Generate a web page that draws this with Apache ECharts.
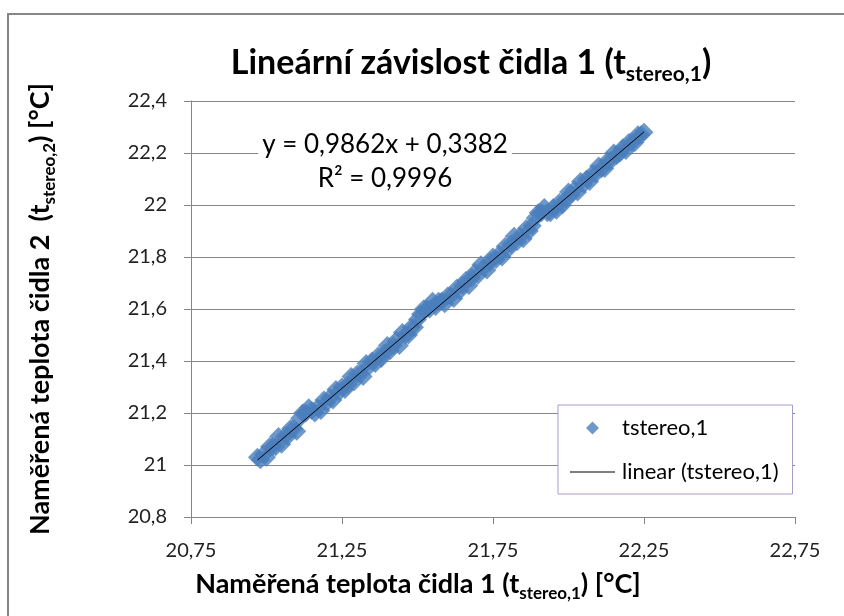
<!DOCTYPE html>
<html>
<head>
<meta charset="utf-8">
<title>Lineární závislost čidla 1</title>
<script src="https://cdn.jsdelivr.net/npm/echarts@6/dist/echarts.min.js"></script>
<style>
  html, body { margin: 0; padding: 0; background: #fff; }
  #chart { width: 844px; height: 616px; }
</style>
</head>
<body>
<div id="chart"></div>
<script>
// Measured temperatures: sensor 1 (x) against sensor 2 (y), °C
const xValues = [
  20.97, 20.98, 20.99, 21.00, 21.01, 21.02, 21.03, 21.04, 21.05, 21.06,
  21.07, 21.08, 21.09, 21.10, 21.11, 21.12, 21.13, 21.14, 21.15, 21.16,
  21.17, 21.18, 21.19, 21.20, 21.21, 21.22, 21.23, 21.24, 21.25, 21.26,
  21.27, 21.28, 21.29, 21.30, 21.31, 21.32, 21.33, 21.34, 21.35, 21.36,
  21.37, 21.38, 21.39, 21.40, 21.41, 21.42, 21.43, 21.44, 21.45, 21.46,
  21.47, 21.48, 21.49, 21.50, 21.51, 21.52, 21.53, 21.54, 21.55, 21.56,
  21.57, 21.58, 21.59, 21.60, 21.61, 21.62, 21.63, 21.64, 21.65, 21.66,
  21.67, 21.68, 21.69, 21.70, 21.71, 21.72, 21.73, 21.74, 21.75, 21.76,
  21.77, 21.78, 21.79, 21.80, 21.81, 21.82, 21.83, 21.84, 21.85, 21.86,
  21.87, 21.88, 21.89, 21.90, 21.91, 21.92, 21.93, 21.94, 21.95, 21.96,
  21.97, 21.98, 21.99, 22.00, 22.01, 22.02, 22.03, 22.04, 22.05, 22.06,
  22.07, 22.08, 22.09, 22.10, 22.11, 22.12, 22.13, 22.14, 22.15, 22.16,
  22.17, 22.18, 22.19, 22.20, 22.21, 22.22, 22.23, 22.24, 22.25
];
const yValues = [
  21.03, 21.02, 21.04, 21.03, 21.07, 21.07, 21.07, 21.11, 21.08, 21.11,
  21.11, 21.14, 21.14, 21.13, 21.18, 21.20, 21.20, 21.22, 21.21, 21.20,
  21.22, 21.21, 21.25, 21.24, 21.26, 21.25, 21.29, 21.28, 21.30, 21.29,
  21.31, 21.34, 21.32, 21.35, 21.35, 21.34, 21.39, 21.38, 21.40, 21.39,
  21.42, 21.41, 21.43, 21.46, 21.44, 21.46, 21.48, 21.46, 21.51, 21.50,
  21.50, 21.53, 21.53, 21.56, 21.58, 21.60, 21.60, 21.60, 21.63, 21.61,
  21.63, 21.63, 21.62, 21.65, 21.65, 21.64, 21.68, 21.67, 21.69, 21.71,
  21.69, 21.72, 21.74, 21.73, 21.77, 21.76, 21.75, 21.78, 21.80, 21.79,
  21.81, 21.80, 21.84, 21.83, 21.85, 21.88, 21.86, 21.88, 21.87, 21.91,
  21.90, 21.92, 21.95, 21.97, 21.97, 21.99, 21.97, 21.97, 21.99, 21.98,
  22.01, 22.00, 22.02, 22.05, 22.04, 22.06, 22.05, 22.09, 22.08, 22.10,
  22.09, 22.12, 22.12, 22.15, 22.14, 22.14, 22.17, 22.17, 22.20, 22.19,
  22.20, 22.22, 22.21, 22.24, 22.24, 22.24, 22.27, 22.27, 22.28
];

// Linear regression of the series (as reported on the chart)
const slope = 0.9862;
const intercept = 0.3382;
const rSquared = 0.9996;

// Axis ranges and tick steps
const xAxisMin = 20.75, xAxisMax = 22.75, xAxisStep = 0.5;
const yAxisMin = 20.8,  yAxisMax = 22.4,  yAxisStep = 0.2;

const seriesName = 'tstereo,1';
const trendName = 'linear (tstereo,1)';

const FONT = 'Lato, "Open Sans", sans-serif';
const comma = v => String(v).replace('.', ',');

const points = xValues.map((x, i) => [x, yValues[i]]);
const xMin = Math.min(...xValues), xMax = Math.max(...xValues);
const trend = [xMin, xMax].map(x => [x, slope * x + intercept]);

const eqText = 'y = ' + comma(slope) + 'x + ' + comma(intercept) + '\nR² = ' + comma(rSquared);

// rich-text styles for bold names with a subscript part
const nameRich = (size, subSize) => ({
  b: { fontFamily: FONT, fontSize: size, fontWeight: 'bold', color: '#000', lineHeight: Math.round(size * 1.3) },
  s: { fontFamily: FONT, fontSize: subSize, fontWeight: 'bold', color: '#000', verticalAlign: 'bottom', lineHeight: subSize }
});

const chart = echarts.init(document.getElementById('chart'), null, { renderer: 'canvas' });

chart.setOption({
  backgroundColor: '#fff',
  animation: false,
  title: {
    text: '{b|Lineární závislost čidla 1 (t}{s|stereo,1}{b|)}',
    left: 466, top: 36,
    textAlign: 'center',
    textStyle: { rich: nameRich(34, 21) }
  },
  grid: { left: 191, top: 101, right: 49, bottom: 99, containLabel: false },
  legend: {
    orient: 'vertical',
    left: 558, top: 405,
    width: 233,
    padding: [12, 14, 11, 12],
    itemGap: 22,
    itemWidth: 45,
    itemHeight: 13,
    symbolKeepAspect: true,
    borderColor: '#A99BC9',
    borderWidth: 1,
    backgroundColor: '#fff',
    textStyle: { fontFamily: FONT, fontSize: 22, color: '#000', padding: [0, 0, 0, 2] },
    data: [
      { name: seriesName, icon: 'path://M5,0 L10,5 L5,10 L0,5 Z', itemStyle: { color: '#4A7EBB' } },
      { name: trendName, icon: 'path://M0,0 H45 V1 H0 Z', itemStyle: { color: '#000' } }
    ]
  },
  xAxis: {
    type: 'value',
    min: xAxisMin, max: xAxisMax, interval: xAxisStep,
    name: '{b|Naměřená teplota čidla 1 (t}{s|stereo,1}{b|) [°C]}',
    nameLocation: 'middle',
    nameGap: 50,
    nameTextStyle: { padding: [0, 150, 0, 0], rich: nameRich(27, 17) },
    axisLine: { lineStyle: { color: '#868686', width: 1 } },
    axisTick: { show: true, inside: false, length: 7, lineStyle: { color: '#868686' } },
    axisLabel: { fontFamily: FONT, fontSize: 20, color: '#222', margin: 24, formatter: v => comma(v.toFixed(2)) },
    splitLine: { show: false }
  },
  yAxis: {
    type: 'value',
    min: yAxisMin, max: yAxisMax, interval: yAxisStep,
    name: '{b|Naměřená teplota čidla 2  (t}{s|stereo,2}{b|) [°C]}',
    nameLocation: 'middle',
    nameGap: 133,
    nameTextStyle: { rich: nameRich(27, 17) },
    axisLine: { show: true, lineStyle: { color: '#868686', width: 1 } },
    axisTick: { show: true, inside: false, length: 7, lineStyle: { color: '#868686' } },
    axisLabel: { fontFamily: FONT, fontSize: 20, color: '#222', margin: 24, formatter: v => comma(+v.toFixed(1)) },
    splitLine: { show: true, lineStyle: { color: '#868686', width: 1 } }
  },
  series: [
    {
      name: seriesName,
      type: 'scatter',
      symbol: 'diamond',
      symbolSize: 19,
      itemStyle: { color: '#4A7EBB' },
      data: points,
      z: 2
    },
    {
      name: trendName,
      type: 'line',
      symbol: 'none',
      lineStyle: { color: '#000', width: 1 },
      itemStyle: { color: '#000' },
      data: trend,
      z: 3
    }
  ],
  graphic: [
    {
      type: 'rect',
      shape: { x: 8, y: 14, width: 900, height: 700 },
      style: { fill: 'none', stroke: '#868686', lineWidth: 2 },
      z: 0, silent: true
    },
    {
      type: 'text',
      x: 385, y: 128,
      style: {
        text: eqText,
        align: 'center',
        verticalAlign: 'top',
        fontFamily: FONT,
        fontSize: 26,
        lineHeight: 34,
        fill: '#000',
        backgroundColor: '#fff',
        padding: [0, 4, 0, 4]
      },
      z: 10
    }
  ]
});
</script>
</body>
</html>
